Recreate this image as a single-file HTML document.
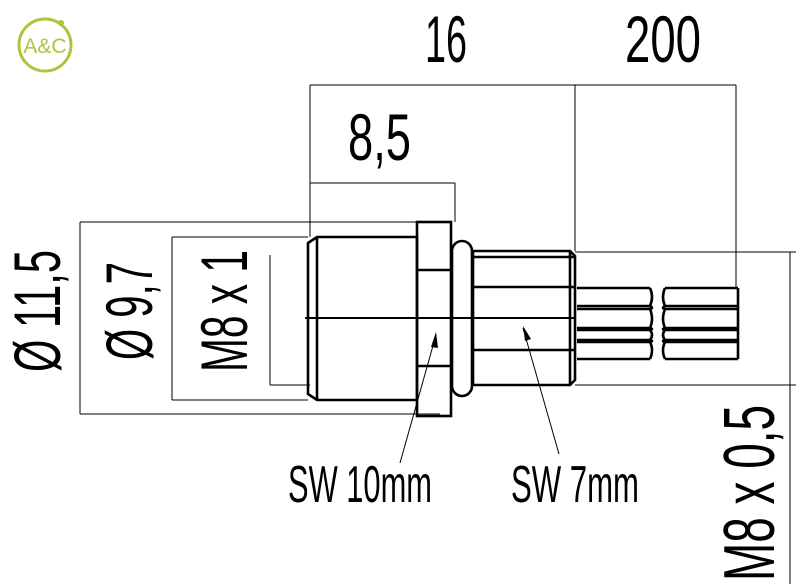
<!DOCTYPE html>
<html><head><style>
html,body{margin:0;padding:0;background:#fff;}
svg{display:block;}
text{font-family:"Liberation Sans Narrow","Liberation Sans",sans-serif;fill:#000;}
</style></head><body>
<svg width="800" height="584" viewBox="0 0 800 584" xmlns="http://www.w3.org/2000/svg">
<!-- logo -->
<circle cx="45" cy="45" r="26" fill="none" stroke="#a9c73c" stroke-width="3"/>
<circle cx="61" cy="23" r="3" fill="#a9c73c"/>
<text x="45" y="53" font-size="21" text-anchor="middle" style="fill:#a9c73c;font-family:'Liberation Sans',sans-serif">A&amp;C</text>

<g stroke="#000" stroke-width="1" fill="none">
<!-- top dims -->
<line x1="310" y1="85" x2="736" y2="85"/>
<line x1="310" y1="85" x2="310" y2="237"/>
<line x1="575" y1="85" x2="575" y2="251"/>
<line x1="736" y1="85" x2="736" y2="287"/>
<line x1="310" y1="183" x2="455" y2="183"/>
<line x1="455" y1="183" x2="455" y2="222"/>
<!-- left dims -->
<line x1="80" y1="222" x2="80" y2="414"/>
<line x1="80" y1="222" x2="417" y2="222"/>
<line x1="80" y1="414" x2="440" y2="414"/>
<line x1="172" y1="237" x2="172" y2="400"/>
<line x1="172" y1="237" x2="308" y2="237"/>
<line x1="172" y1="400" x2="308" y2="400"/>
<line x1="270" y1="255" x2="270" y2="385"/>
<line x1="270" y1="385" x2="310" y2="385"/>
<!-- right dim -->
<line x1="575" y1="252" x2="796" y2="252"/>
<line x1="575" y1="385" x2="796" y2="385"/>
<line x1="790" y1="252" x2="790" y2="584"/>
<!-- leaders -->
<line x1="436" y1="335" x2="400" y2="463"/>
<line x1="523" y1="328" x2="559" y2="454"/>
</g>
<polygon points="436,332 431,347 438,348" fill="#000"/>
<polygon points="523,326 525,341 531,339" fill="#000"/>

<g stroke="#000" stroke-width="2.6" fill="none">
<!-- thread body -->
<path d="M317,237 L417,237 L417,400 L317,400 L308,394 L308,243 Z"/>
<line x1="317" y1="237" x2="317" y2="400"/>
<!-- hex nut -->
<rect x="417" y="222" width="34" height="194"/>
<line x1="417" y1="270" x2="451" y2="270"/>
<line x1="417" y1="366" x2="451" y2="366"/>
<!-- o-ring -->
<rect x="452" y="241" width="20" height="155" rx="10"/>
<!-- rear body -->
<path d="M473,251 L570,251 L575,256 L575,380 L570,385 L473,385 Z"/>
<line x1="473" y1="257" x2="575" y2="257"/>
<line x1="473" y1="287" x2="575" y2="287"/>
<line x1="473" y1="350" x2="575" y2="350"/>
<line x1="570" y1="251" x2="570" y2="385"/>
<!-- wires left -->
<path d="M577,288 H650 M577,306 H650 M577,309 H650 M577,328 H650 M577,330 H650 M577,340 H650 M577,342 H650 M577,359 H650"/>
<path d="M650,288 q4,9 0,18 q4,2 0,3 q4,10 0,19 q4,1 0,2 q4,5 0,10 q4,1 0,2 q4,8 0,17"/>
<!-- wires right -->
<path d="M665,288 H738 M665,306 H738 M665,309 H738 M665,328 H738 M665,330 H738 M665,340 H738 M665,342 H738 M665,359 H738 M738,288 V359"/>
<path d="M665,288 q-4,9 0,18 q-4,2 0,3 q-4,10 0,19 q-4,1 0,2 q-4,5 0,10 q-4,1 0,2 q-4,8 0,17"/>
</g>
<line x1="305" y1="318" x2="575" y2="318" stroke="#000" stroke-width="2"/>

<!-- text -->
<text x="425" y="62" font-size="66" textLength="42" lengthAdjust="spacingAndGlyphs">16</text>
<text x="625" y="62" font-size="66" textLength="76" lengthAdjust="spacingAndGlyphs">200</text>
<text x="348" y="160" font-size="66" textLength="63" lengthAdjust="spacingAndGlyphs">8,5</text>
<text transform="translate(60,372) rotate(-90)" font-size="66" textLength="122" lengthAdjust="spacingAndGlyphs">Ø 11,5</text>
<text transform="translate(152,360) rotate(-90)" font-size="66" textLength="98" lengthAdjust="spacingAndGlyphs">Ø 9,7</text>
<text transform="translate(247,372) rotate(-90)" font-size="66" textLength="122" lengthAdjust="spacingAndGlyphs">M8 x 1</text>
<text x="288" y="502" font-size="52" textLength="144" lengthAdjust="spacingAndGlyphs">SW 10mm</text>
<text x="511" y="502" font-size="52" textLength="128" lengthAdjust="spacingAndGlyphs">SW 7mm</text>
<text transform="translate(774,581) rotate(-90)" font-size="72" textLength="176" lengthAdjust="spacingAndGlyphs">M8 x 0,5</text>
</svg>
</body></html>
